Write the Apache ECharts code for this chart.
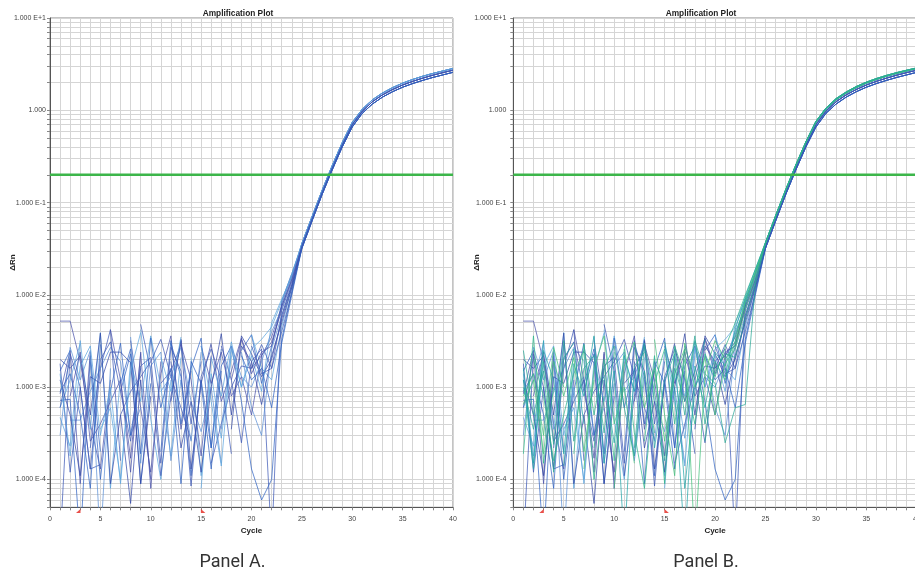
<!DOCTYPE html>
<html>
<head>
<meta charset="utf-8">
<script src="https://cdn.jsdelivr.net/npm/echarts@6/dist/echarts.min.js"></script>
<style>
  html, body { margin: 0; padding: 0; background: #fff; overflow: hidden; }
  #chart { width: 915px; height: 575px; }
</style>
</head>
<body>
<div id="chart"></div>
<script>
// Cycle numbers of the run
const cycles = [1, 2, 3, 4, 5, 6, 7, 8, 9, 10, 11, 12, 13, 14, 15, 16, 17, 18, 19, 20,
                21, 22, 23, 24, 25, 26, 27, 28, 29, 30, 31, 32, 33, 34, 35, 36, 37, 38, 39, 40];

// ΔRn plateau phase, cycles 25-40 (shared by groups of wells)
const tailMid   = [0.034, 0.066, 0.128, 0.235, 0.42, 0.70, 0.98, 1.24, 1.47, 1.68, 1.88, 2.06, 2.23, 2.40, 2.56, 2.72];
const tailHigh  = [0.036, 0.070, 0.135, 0.25, 0.445, 0.74, 1.03, 1.30, 1.54, 1.76, 1.97, 2.16, 2.34, 2.51, 2.67, 2.84];
const tailLow   = [0.032, 0.063, 0.122, 0.225, 0.40, 0.66, 0.93, 1.17, 1.39, 1.59, 1.78, 1.95, 2.11, 2.27, 2.42, 2.58];
const tailGreen = [0.037, 0.072, 0.138, 0.255, 0.455, 0.76, 1.06, 1.34, 1.58, 1.81, 2.02, 2.21, 2.39, 2.56, 2.72, 2.88];

// ΔRn, cycles 1-24, wells present in both runs (null = negative reading, not plotted)
const blue01 = [5.2e-3, 5.2e-3, 1.9e-3, 4e-4, 1.3e-4, 1.2e-3, null, 3.2e-3, 6e-4, 1.2e-4, 1.4e-3, 3.6e-3, 3.5e-4, 1.5e-3, null, 2.9e-3, 7e-4, 1.5e-3, 3.4e-3, 1.6e-3, 2.2e-3, 3.5e-3, 7.5e-3, 1.5e-2];
const blue02 = [7.2e-4, 7.4e-4, 2e-5, 2.2e-3, 2e-4, null, 9e-4, 2.3e-3, 9e-5, 1.1e-3, null, 3e-3, 1.3e-3, 1.1e-4, 1.2e-3, 2.2e-4, 2.6e-3, null, 2.5e-3, 3.7e-3, 1.1e-3, 2.8e-3, 8e-3, 1.6e-2];
const blue03 = [4.7e-4, 2.3e-4, 3.2e-3, 3.5e-4, 3.9e-3, 8e-5, 1.3e-3, null, 4.2e-3, 4.5e-4, 1e-4, 1.2e-3, null, 2.1e-3, 1.1e-4, 1.4e-3, 2.8e-4, 2.2e-3, null, 3.7e-3, 1.6e-3, 1.2e-3, 4.5e-3, 1.2e-2];
const blue04 = [2e-5, 2.3e-3, 1e-3, 1.3e-4, 1.6e-3, 4.2e-3, 1.6e-4, null, 4.8e-3, 1.5e-3, 1.1e-4, 8e-4, 3.3e-3, 4e-4, 1.9e-3, null, 2.8e-3, 1.2e-3, 2.5e-4, 1.9e-3, 2.6e-3, 2e-5, 8.6e-3, 1.7e-2];
const blue05 = [null, 4.4e-4, 4.4e-4, 9e-4, 1.6e-3, 2.7e-3, 1.9e-3, 3e-4, 6e-4, null, 9e-4, 1.3e-3, 2.7e-3, 7e-4, 3.3e-4, 1e-3, 1.5e-4, null, 2.4e-3, 6e-4, 3e-4, 2.6e-3, 6e-3, 1.3e-2];
const blue06 = [2e-3, 1.6e-3, 2.2e-3, 5e-4, 3.85e-3, 9e-5, 5e-4, 5.5e-5, 1.2e-3, 1e-4, null, 7e-4, 3.2e-3, 1.3e-4, 1.1e-3, 3e-3, null, 3.5e-4, 3.6e-3, 2.3e-3, 1.3e-3, 2e-3, 5.5e-3, 1.25e-2];
const blue07 = [8.5e-4, 2.5e-3, 9e-5, 2.4e-3, null, 4.2e-3, 1.2e-3, 1.2e-4, 2.4e-3, 8e-5, 1.9e-3, null, 9e-4, null, 2.8e-3, 1.1e-3, 2.4e-3, 8e-4, 1.3e-3, 5e-4, 2.2e-3, 3.1e-3, 6.8e-3, 1.4e-2];
const blue08 = [1.5e-3, 2.5e-3, null, 1.9e-3, 1e-4, 9e-4, 3e-3, 3e-4, 1.6e-3, null, 2e-4, 3.2e-3, 4e-4, 1.6e-3, 3.4e-3, 2.2e-4, 1.7e-3, 2.8e-3, 7e-4, 1.3e-4, 6e-5, 1e-4, 3.3e-3, 1.1e-2];
const blue09 = [6e-4, 1.2e-3, 3e-3, null, 3.5e-4, 6e-4, 1e-4, 1.9e-3, 7e-4, 3.6e-3, 1e-3, 1.8e-4, 2.1e-3, null, 8e-5, 2.1e-3, 8e-4, 3.1e-3, 1e-3, 2.2e-3, 9e-4, 5e-3, 9e-3, 1.6e-2];
const blue10 = [1.8e-3, 1.2e-4, 1e-3, 1.3e-4, 1.45e-4, null, 5e-4, 9e-4, 1.3e-3, 1.9e-3, 3.3e-3, 1.3e-3, 6e-4, 2.7e-4, null, 1.5e-4, 4e-4, 1e-3, 1.7e-3, 1.6e-3, 2.9e-3, 1.6e-3, 4e-3, 1.05e-2];
const blue11 = [3e-4, 2.7e-3, 1.2e-3, 2.5e-3, 2e-5, 1.6e-3, null, 3.5e-3, 1.5e-4, 1.7e-3, 2.4e-3, 1.6e-4, 1.2e-3, 2.6e-4, 2.4e-3, null, 3.5e-4, 2.8e-3, 1.3e-3, 1e-3, 1.9e-3, 4e-3, 7e-3, 1.5e-2];
const blue12 = [1.2e-3, 5e-4, 1.1e-4, 1.3e-3, 1.1e-3, 2.4e-3, 2.4e-3, 1.84e-3, 9e-5, 8e-4, null, 1.9e-3, 2.2e-4, 7e-4, 1.2e-4, 1e-3, 3.8e-3, 5e-4, 2.8e-3, 1.9e-3, 6.5e-4, 2.2e-3, 5e-3, 1.2e-2];
const blue13 = [null, 8e-4, 2.4e-3, 2.6e-4, 4e-4, 7e-4, 1.2e-3, 1.7e-4, 2.3e-3, null, 1.1e-3, 1.5e-3, 2.9e-3, 1.2e-3, 1.8e-4, 2.2e-3, null, 1.2e-3, 3.3e-3, 1.4e-3, 2.4e-3, 2.8e-3, 7.5e-3, 1.45e-2];
const blue14 = [9e-4, 1.4e-3, 5e-4, 8e-5, 2.9e-3, null, 1.1e-3, 2.6e-3, 1.9e-4, 3.4e-3, 6e-4, 1.6e-3, 9e-5, 1.9e-3, 1.1e-3, 1.3e-4, 1.5e-3, null, 2.2e-3, 1.2e-3, 1.6e-3, 6e-4, 3e-3, 1e-2];
const blue15 = [1.4e-3, 1.8e-4, 1.7e-3, 2.8e-3, 3e-4, 1e-3, 9e-5, 1.5e-3, 3.9e-3, null, 2.1e-3, 9e-4, 3.5e-3, null, 2.8e-3, 7e-4, 1.4e-4, 2.6e-3, 1e-3, 2.6e-3, 3.3e-3, 4.5e-3, 8.5e-3, 1.7e-2];
const blue16 = [6e-4, 2.1e-3, null, 2.2e-4, 2e-3, 3.1e-3, 9e-4, 2.6e-4, 1.7e-3, 2.1e-3, 1.5e-4, 2.7e-3, 1.5e-3, 8.5e-5, 1.3e-3, 2.6e-3, 1.2e-3, 1.9e-4, null, 2.8e-3, 1.4e-3, 1.6e-3, 6e-3, 1.3e-2];

// ΔRn, cycles 1-24, additional wells of the second run
const green01 = [1.9e-4, 3.6e-3, 1.5e-4, 1e-3, null, 1.9e-4, 2.9e-3, 5e-4, 2e-3, 1.6e-4, 2.6e-3, null, 2.6e-4, 2.2e-3, 9e-5, 2.8e-3, 1.3e-3, 4e-4, 2.3e-3, 1.3e-3, 2.7e-3, 5e-3, 1e-2, 1.9e-2];
const green02 = [1.6e-3, 1.5e-4, 3.2e-3, null, 1.4e-4, 1.8e-3, 8e-4, 3.6e-3, 1.5e-4, 1.5e-3, 2e-5, 1.7e-3, 2.4e-3, null, 3.1e-3, 9e-4, 2e-5, 1.7e-3, 6e-4, 2.4e-3, 1.7e-3, 3.7e-3, 8e-3, 1.7e-2];
const green03 = [8e-4, 1.4e-3, 3e-4, 2.7e-3, 1e-3, null, 1.3e-4, 1.6e-3, 3.6e-3, 4e-4, 1e-3, 1.5e-4, null, 3.3e-3, 5e-4, 1.1e-4, 3e-3, 1e-3, 2.1e-3, 5e-4, 1.8e-3, 2.6e-3, 7e-3, 1.6e-2];
const green04 = [2.5e-3, 5e-4, 1.5e-3, 1.2e-4, 2.1e-3, 3e-3, null, 2.2e-4, 1.6e-3, 2.8e-3, 6e-4, 1.8e-4, 1.5e-3, 3.2e-4, null, 2.6e-3, 5e-4, 3.2e-3, 1.4e-3, 1.1e-3, 2.5e-4, 6e-4, 6.5e-4, 1.3e-2];
const green05 = [null, 2e-3, 8e-4, 1.6e-4, 5e-4, 1.4e-3, 2.5e-3, 1e-4, 8e-4, null, 2.9e-3, 3.2e-4, 8e-5, 1.1e-3, 2.6e-3, 4e-4, 2e-3, null, 2.6e-4, 1.9e-3, 1.2e-3, 3.2e-3, 9e-3, 1.8e-2];
const green06 = [1.2e-3, 1.3e-4, 2.5e-3, 1.2e-3, 1.9e-4, 2.6e-3, 4e-4, null, 1.3e-3, 2.5e-4, 2.2e-3, 9e-4, 3e-3, 2.2e-4, 1.2e-3, 2.3e-3, 8e-5, 9e-4, 3.3e-3, null, 1.3e-3, 4.2e-3, 9.5e-3, 1.9e-2];
const green07 = [6.5e-4, 1.2e-3, 1.9e-4, 1.9e-3, 8e-4, 2.1e-3, 2e-4, 1.2e-3, null, 8e-5, 1.7e-3, 3.1e-3, 6e-4, 1.6e-3, 2.6e-4, 1.4e-3, 2.6e-3, 2e-5, 1.4e-3, 3.2e-3, 2e-3, 2.9e-3, 8.5e-3, 1.75e-2];
const green08 = [1e-3, 3.5e-4, 1.9e-3, 2.4e-4, 3.2e-3, 2.6e-4, 1.6e-3, 2.2e-3, 3.2e-4, 2.4e-3, null, 2.2e-4, 2.8e-3, 9e-4, 1.6e-4, 1.6e-3, 7e-4, 3.6e-3, 4e-4, 1.5e-3, 2.3e-3, 2.1e-3, 5.5e-3, 1.4e-2];

// Analysis settings
const threshold = 0.2;
const baselineStart = 3;
const baselineEnd = 15;
const yMin = 5e-5;
const yMax = 10;

// Well groups: early phase + plateau phase
const sharedWells = [
  [blue01, tailMid], [blue02, tailHigh], [blue03, tailLow], [blue04, tailMid],
  [blue05, tailMid], [blue06, tailHigh], [blue07, tailLow], [blue08, tailLow],
  [blue09, tailHigh], [blue10, tailMid], [blue11, tailHigh], [blue12, tailLow],
  [blue13, tailMid], [blue14, tailLow], [blue15, tailHigh], [blue16, tailMid]
];
const extraWells = [
  [green01, tailGreen], [green02, tailHigh], [green03, tailGreen], [green04, tailHigh],
  [green05, tailGreen], [green06, tailGreen], [green07, tailHigh], [green08, tailGreen]
];

const bluePalette = ['#4a52ab', '#2f63c2', '#5aa3de', '#3b57b5', '#5a8fd6', '#3348a6'];
const greenPalette = ['#2db58a', '#23a5a8', '#43c07c', '#2aa896'];

const FONT = 'Liberation Sans, Arial, sans-serif';

function wellData(early, tail) {
  return cycles.map((c, i) => [c, i < early.length ? early[i] : tail[i - early.length]]);
}

// log10 positions of the decade grid: 1..9 x 10^n
const decadeMarks = [];
const gridMarks = [];
for (let n = -5; n <= 1; n++) {
  for (let k = 1; k <= 9; k++) {
    const v = Math.log10(k) + n;
    if (v >= Math.log10(yMin) - 1e-9 && v <= Math.log10(yMax) + 1e-9) {
      gridMarks.push(v);
      if (k === 1) decadeMarks.push(v);
    }
  }
}

function yLabel(v) {
  const e = Math.round(v);
  return e === 0 ? '1.000' : '1.000 E' + (e > 0 ? '+' : '') + e;
}

function makeX(gridIndex) {
  return {
    type: 'value', gridIndex: gridIndex, min: 0, max: 40, interval: 1,
    name: 'Cycle', nameLocation: 'middle', nameGap: 19, nameMoveOverlap: false,
    nameTextStyle: { fontFamily: FONT, fontSize: 8, fontWeight: 'bold', color: '#222' },
    axisLine: { show: true, onZero: false, lineStyle: { color: '#555', width: 1 } },
    axisTick: { show: true, length: 3, lineStyle: { color: '#888' } },
    axisLabel: { fontFamily: FONT, fontSize: 7, color: '#444', margin: 8,
                 formatter: v => (v % 5 === 0 ? String(v) : '') },
    splitLine: { show: true, lineStyle: { color: '#d5d5d5', width: 1 } }
  };
}

function makeLogY(gridIndex) {
  return { type: 'log', logBase: 10, gridIndex: gridIndex, min: yMin, max: yMax, show: false };
}

function makeGridY(gridIndex, labelMargin, nameGap) {
  return {
    type: 'value', gridIndex: gridIndex, position: 'left',
    min: Math.log10(yMin), max: Math.log10(yMax),
    name: 'ΔRn', nameLocation: 'middle', nameGap: nameGap, nameMoveOverlap: false,
    nameTextStyle: { fontFamily: FONT, fontSize: 8, fontWeight: 'bold', color: '#222' },
    axisLine: { show: true, onZero: false, lineStyle: { color: '#555', width: 1 } },
    axisTick: { show: true, length: 3, customValues: gridMarks, lineStyle: { color: '#888' } },
    axisLabel: { customValues: decadeMarks, formatter: yLabel, fontFamily: FONT,
                 fontSize: 7, color: '#444', margin: labelMargin },
    splitLine: { show: true, lineStyle: { color: '#d5d5d5', width: 1 } }
  };
}

const series = [];
function addWells(list, palette, xi, yi) {
  list.forEach((w, i) => {
    series.push({
      type: 'line', xAxisIndex: xi, yAxisIndex: yi,
      data: wellData(w[0], w[1]),
      showSymbol: false, symbol: 'none', connectNulls: false,
      lineStyle: { width: 1, color: palette[i % palette.length], opacity: 0.72 },
      silent: true, animation: false
    });
  });
}
function addThreshold(xi, yi) {
  series.push({
    type: 'line', xAxisIndex: xi, yAxisIndex: yi, z: 5,
    data: [[0, threshold], [40, threshold]],
    symbol: 'none', lineStyle: { width: 2.5, color: '#3cb64a' },
    silent: true, animation: false
  });
}
function addBaselineMarks(xi, yi) {
  series.push({
    type: 'scatter', xAxisIndex: xi, yAxisIndex: yi, clip: false, z: 6,
    symbolSize: [4.5, 4],
    data: [
      { value: [baselineStart, yMin], symbol: 'path://M10,0 L10,10 L0,10 Z', symbolOffset: [-2, 3.8] },
      { value: [baselineEnd, yMin], symbol: 'path://M0,0 L10,10 L0,10 Z', symbolOffset: [2, 3.8] }
    ],
    itemStyle: { color: '#e3231b' },
    silent: true, animation: false
  });
}

// Panel A: shared wells only
addWells(sharedWells, bluePalette, 0, 0);
addThreshold(0, 0);
addBaselineMarks(0, 0);
// Panel B: shared wells plus additional wells
addWells(sharedWells, bluePalette, 1, 2);
addWells(extraWells, greenPalette, 1, 2);
addThreshold(1, 2);
addBaselineMarks(1, 2);

function caption(text, x, y, font, fill) {
  return { type: 'text', x: x, y: y, silent: true,
           style: { text: text, font: font, fill: fill, align: 'center', verticalAlign: 'middle',
                    textAlign: 'center', textVerticalAlign: 'middle' } };
}

const chart = echarts.init(document.getElementById('chart'), null, { renderer: 'canvas' });
chart.setOption({
  animation: false,
  backgroundColor: '#fff',
  grid: [
    { left: 50, top: 18, width: 403, height: 489.3, show: true, borderColor: '#888', borderWidth: 1,
      backgroundColor: '#fff', containLabel: false, outerBoundsMode: 'none' },
    { left: 513.3, top: 18, width: 403.5, height: 489.3, show: true, borderColor: '#888', borderWidth: 1,
      backgroundColor: '#fff', containLabel: false, outerBoundsMode: 'none' }
  ],
  xAxis: [makeX(0), makeX(1)],
  yAxis: [makeLogY(0), makeGridY(0, 4, 33), makeLogY(1), makeGridY(1, 7, 33)],
  series: series,
  graphic: [
    caption('Amplification Plot', 238, 13.5, 'bold 8.3px ' + FONT, '#222'),
    caption('Amplification Plot', 701, 13.5, 'bold 8.3px ' + FONT, '#222'),
    caption('Panel A.', 232.5, 562, '18px Roboto, sans-serif', '#333'),
    caption('Panel B.', 706, 562, '18px Roboto, sans-serif', '#333')
  ]
});
</script>
</body>
</html>
